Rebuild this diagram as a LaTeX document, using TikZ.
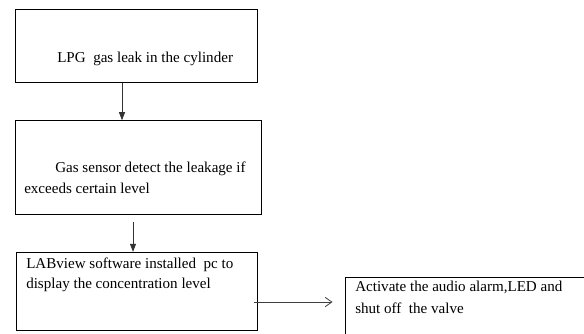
\documentclass[tikz,border=0pt]{standalone}
\usepackage{fontspec}
\setmainfont{Liberation Serif}
\usepackage{tikz}
\usetikzlibrary{arrows.meta,positioning,calc}

\tikzset{
  blockbox/.style={draw=black, line width=0.7pt, inner sep=0pt},
  labeltext/.style={anchor=base west, inner sep=0pt, font=\fontsize{11.3}{13}\selectfont},
  flowarrow/.style={-{Triangle[length=6pt,width=4.5pt]}, draw=black!80, line width=0.6pt},
  openarrow/.style={-{Straight Barb[length=5pt,width=7pt]}, draw=black!75, line width=0.6pt}
}

\begin{document}
\begin{tikzpicture}[x=0.75pt, y=-0.75pt]
  \useasboundingbox (0,0) rectangle (584,333);

  % Draw the boxes
  \node[blockbox, minimum width=181.5pt, minimum height=55pt] (leak) at (136,46) {};
  \node[blockbox, minimum width=185pt, minimum height=70pt] (sensor) at (138.35,167.35) {};
  \node[blockbox, minimum width=181pt, minimum height=58.3pt] (labview) at (136.65,291.15) {};
  \node[blockbox, minimum width=225pt, minimum height=60pt] (alarm) at (495.7,317.3) {};

  % Texts in the boxes
  \node[labeltext] (leaktxt) at (57,62) {LPG\ \ gas leak in the cylinder};
  \node[labeltext] (sensortxt) at (55,172.3) {Gas sensor detect the leakage if};
  \node[labeltext] (sensortxtb) at (24,193.3) {exceeds certain level};
  \node[labeltext] (labviewtxt) at (26,268) {LABview software installed\ \ pc to};
  \node[labeltext] (labviewtxtb) at (26,288.5) {display the concentration level};
  \node[labeltext] (alarmtxt) at (355,291.7) {Activate the audio alarm,LED and};
  \node[labeltext] (alarmtxtb) at (355,313.3) {shut off\ \ the valve};

  % Arrows between the boxes
  \coordinate (a1) at (122,0);
  \coordinate (a2) at (133,0);
  \coordinate (a3) at (0,302);
  \draw[flowarrow] (leak.south -| a1) -- (sensor.north -| a1);
  \draw[flowarrow] ($(sensor.south -| a2)+(0,7.7)$) -- (labview.north -| a2);
  \draw[openarrow] ($(labview.east |- a3)+(-3.3,0)$) -- ($(alarm.west |- a3)+(-12.7,0)$);
\end{tikzpicture}
\end{document}
